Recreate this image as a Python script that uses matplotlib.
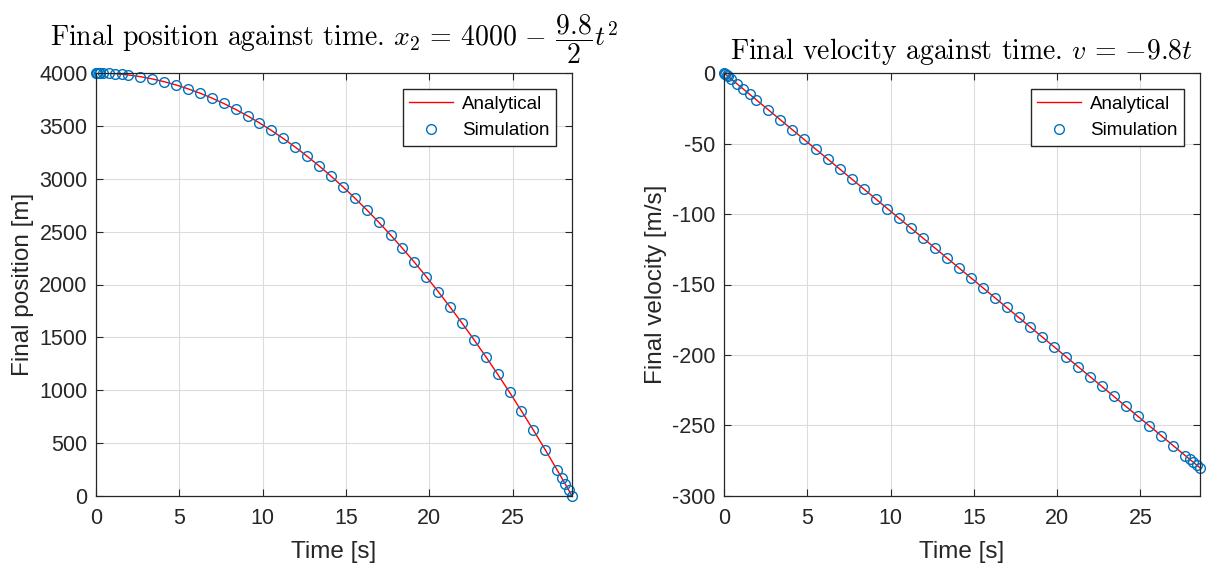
import matplotlib
matplotlib.use('Agg')
import matplotlib.pyplot as plt


# simulation time samples [s]
time_s = [0, 0.04, 0.08, 0.16, 0.25, 0.4, 0.8, 1.17, 1.55, 1.95, 2.66, 3.38, 4.09, 4.81, 5.52,
          6.24, 6.95, 7.67, 8.38, 9.10, 9.81, 10.53, 11.24, 11.96, 12.67, 13.39, 14.10, 14.82,
          15.53, 16.25, 16.96, 17.68, 18.39, 19.11, 19.82, 20.54, 21.25, 21.97, 22.68, 23.40,
          24.11, 24.83, 25.54, 26.26, 26.97, 27.69, 27.95, 28.17, 28.38, 28.57]

# final position [m]
position_m = [4000, 3999.99, 3999.97, 3999.87, 3999.69, 3999.22, 3996.86, 3993.29, 3988.23,
              3981.37, 3965.33, 3944.02, 3918.03, 3886.63, 3850.70, 3809.21, 3763.32, 3711.74,
              3655.90, 3594.23, 3528.44, 3456.68, 3380.95, 3299.10, 3213.41, 3121.47, 3025.83,
              2923.80, 2818.21, 2706.09, 2590.56, 2468.35, 2342.86, 2210.56, 2075.12, 1932.73,
              1787.34, 1634.86, 1479.53, 1316.96, 1151.67, 979.01, 803.77, 621.02, 435.83,
              242.99, 172.11, 111.61, 53.42, 0.40]

# final velocity [m/s]
velocity_ms = [0, -0.39, -0.78, -1.57, -2.45, -3.92, -7.84, -11.47, -15.19, -19.11, -26.07,
               -33.12, -40.08, -47.14, -54.10, -61.15, -68.11, -75.17, -82.12, -89.18, -96.14,
               -103.19, -110.15, -117.21, -124.17, -131.22, -138.18, -145.24, -152.19, -159.25,
               -166.21, -173.26, -180.22, -187.28, -194.24, -201.29, -208.25, -215.31, -222.26,
               -229.32, -236.28, -243.33, -250.29, -257.35, -264.31, -271.36, -273.91, -276.07,
               -278.12, -279.99]

x_ticks = [0, 5, 10, 15, 20, 25]
pos_ticks = list(range(0, 4001, 500))
vel_ticks = list(range(-300, 1, 50))

plt.rcParams['font.family'] = ['Liberation Sans', 'DejaVu Sans']
plt.rcParams['mathtext.fontset'] = 'cm'
plt.rcParams['axes.unicode_minus'] = False

matlab_blue = '#0072BD'
dark = '#262626'

fig = plt.figure(figsize=(12.09, 5.69), dpi=100)
ax1 = fig.add_axes([0.0794, 0.1283, 0.3937, 0.7434])
ax2 = fig.add_axes([0.5988, 0.1283, 0.3937, 0.7434])


def style_axes(ax):
    ax.grid(True, color='#dcdcdc', linewidth=0.8)
    ax.set_axisbelow(True)
    for sp in ax.spines.values():
        sp.set_color(dark)
        sp.set_linewidth(0.9)
    ax.tick_params(direction='in', top=True, right=True, labelsize=15.5,
                   colors=dark, length=5, width=0.8)
    ax.tick_params(axis='x', pad=9)
    ax.tick_params(axis='y', pad=6)
    ax.legend(loc='upper right', fontsize=13.5, fancybox=False, edgecolor=dark,
              framealpha=1, borderpad=0.35, handlelength=2.3, handletextpad=0.5,
              borderaxespad=0.85, labelspacing=0.5)


def draw_series(ax, values):
    ax.plot(time_s, values, color='red', linewidth=1, label='Analytical')
    ax.plot(time_s, values, 'o', mfc='none', mec=matlab_blue, ms=7, mew=1,
            label='Simulation', clip_on=False)


draw_series(ax1, position_m)
ax1.set_xlim(0, time_s[-1])
ax1.set_ylim(0, 4000)
ax1.set_xticks(x_ticks)
ax1.set_yticks(pos_ticks)
ax1.set_xlabel('Time [s]', fontsize=17.5, color=dark, labelpad=8)
ax1.set_ylabel('Final position [m]', fontsize=17.5, color=dark, labelpad=4)
ax1.set_title(r'Final position against time. $x_2 \,=\, 4000 \,-\, \dfrac{9.8}{2}t^2$',
              fontsize=20, family='cmr10', pad=5, va='bottom')
style_axes(ax1)

draw_series(ax2, velocity_ms)
ax2.set_xlim(0, time_s[-1])
ax2.set_ylim(-300, 0)
ax2.set_xticks(x_ticks)
ax2.set_yticks(vel_ticks)
ax2.set_xlabel('Time [s]', fontsize=17.5, color=dark, labelpad=8)
ax2.set_ylabel('Final velocity [m/s]', fontsize=17.5, color=dark, labelpad=4)
ax2.set_title(r'Final velocity against time. $v \,=\, {-}9.8t$',
              fontsize=20, family='cmr10', pad=4, va='bottom')
style_axes(ax2)

fig.savefig('out.png', dpi=100)
